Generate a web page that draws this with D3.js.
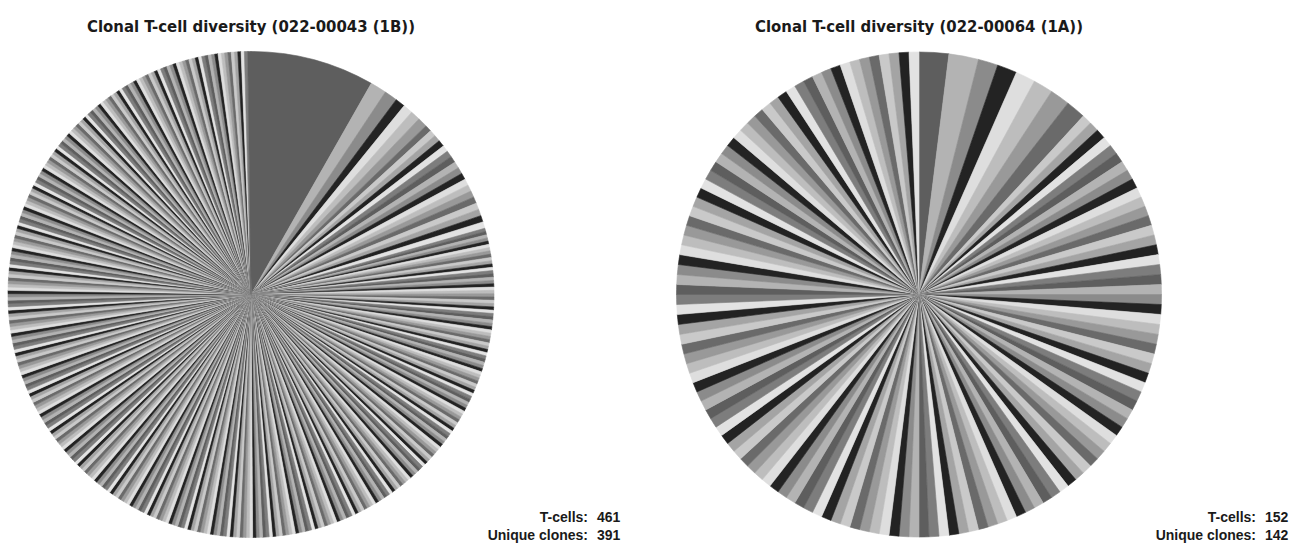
<!DOCTYPE html>
<html>
<head>
<meta charset="utf-8">
<script src="https://cdn.jsdelivr.net/npm/d3@7"></script>
<style>
  html, body { margin: 0; padding: 0; background: #ffffff; }
  svg { display: block; }
</style>
</head>
<body>
<svg id="chart" width="1304" height="547"></svg>
<script>
// ---- data ----
const leftTitle = "Clonal T-cell diversity (022-00043 (1B))";
const rightTitle = "Clonal T-cell diversity (022-00064 (1A))";

const statLabels = ["T-cells:", "Unique clones:"];
const leftStats = [461, 391];
const rightStats = [152, 142];

// clone sizes (cells per clone) and how many clones have that size, in pie order
const leftCloneSizes  = [38, 5, 4, 3, 2, 1];
const leftCloneCounts = [1, 1, 1, 4, 18, 366];
const rightCloneSizes  = [3, 2, 1];
const rightCloneCounts = [2, 6, 134];

// grayscale slice colour cycle
const palette = ["#5e5e5e", "#b3b3b3", "#8b8b8b", "#232323", "#dedede", "#bdbdbd", "#999999",
                 "#6a6a6a", "#c9c9c9", "#a4a4a4", "#222222", "#e2e2e2", "#7d7d7d"];

function expand(sizes, counts) {
  const out = [];
  sizes.forEach((s, i) => { for (let k = 0; k < counts[i]; k++) out.push(s); });
  return out;
}

const svg = d3.select("#chart");
const color = d3.scaleOrdinal().range(palette);

function drawPie(cx, cy, r, title, sizes, counts, stats, statX) {
  const clones = expand(sizes, counts);
  const pie = d3.pie().sort(null).value(d => d);
  const arc = d3.arc().innerRadius(0).outerRadius(r);
  const g = svg.append("g").attr("transform", `translate(${cx},${cy})`);
  g.selectAll("path")
    .data(pie(clones))
    .join("path")
    .attr("d", arc)
    .attr("fill", (d, i) => color(i % palette.length))
    .attr("stroke", (d, i) => color(i % palette.length))
    .attr("stroke-width", 0.6)
    .attr("stroke-linejoin", "round");

  svg.append("text")
    .attr("x", cx).attr("y", 32)
    .attr("text-anchor", "middle")
    .attr("font-family", "'DejaVu Sans Condensed', 'Liberation Sans Narrow', 'Liberation Sans', sans-serif")
    .attr("font-weight", "bold")
    .attr("font-size", 16.5)
    .attr("textLength", 328)
    .attr("lengthAdjust", "spacingAndGlyphs")
    .attr("fill", "#1a1a1a")
    .text(title);

  const ys = [521.5, 540];
  statLabels.forEach((lab, i) => {
    svg.append("text")
      .attr("x", statX).attr("y", ys[i])
      .attr("text-anchor", "end")
      .attr("font-family", "'Liberation Sans', Arial, sans-serif")
      .attr("font-weight", "bold")
      .attr("font-size", 14)
      .attr("fill", "#1a1a1a")
      .text(lab);
    svg.append("text")
      .attr("x", statX + 9).attr("y", ys[i])
      .attr("text-anchor", "start")
      .attr("font-family", "'Liberation Sans', Arial, sans-serif")
      .attr("font-weight", "bold")
      .attr("font-size", 14)
      .attr("fill", "#1a1a1a")
      .text(stats[i]);
  });
}

drawPie(251, 294.5, 243, leftTitle, leftCloneSizes, leftCloneCounts, leftStats, 588);
drawPie(919, 294.5, 242.5, rightTitle, rightCloneSizes, rightCloneCounts, rightStats, 1256);
</script>
</body>
</html>
